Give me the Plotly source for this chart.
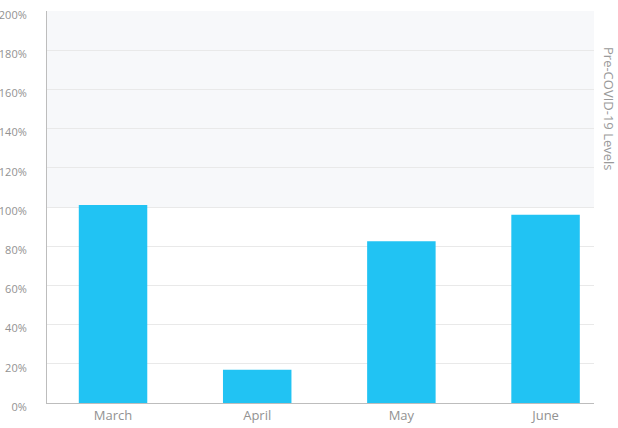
import plotly.graph_objects as go

# ── Dados ────────────────────────────────────────────────────────────────────

MESES   = ["March", "April", "May", "June"]
NIVEIS  = [101, 17, 82.5, 96]          # % dos níveis pré-COVID
Y_TICKS = [0, 20, 40, 60, 80, 100, 120, 140, 160, 180, 200]
Y_LABELS = [f"{v}%" for v in Y_TICKS]
ROTULO_FAIXA = "Pre-COVID-19 Levels"

COR_BARRA = "#21c3f3"
COR_TEXTO = "#929292"

# ── Gráfico ──────────────────────────────────────────────────────────────────

fig = go.Figure()

fig.add_trace(go.Bar(
    x=MESES,
    y=NIVEIS,
    marker_color=COR_BARRA,
    marker_line_width=0,
    width=0.475,
    hovertemplate="<b>%{x}</b><br>%{y}%<extra></extra>",
))

# faixa acima de 100% (níveis pré-COVID)
fig.add_shape(
    type="rect", xref="paper", yref="y",
    x0=0, x1=1, y0=100, y1=200,
    fillcolor="#f7f8fa", line_width=0, layer="below",
)

fig.add_annotation(
    text=ROTULO_FAIXA,
    xref="paper", yref="y",
    x=1.0, y=150, xanchor="left", yanchor="middle",
    xshift=4, textangle=90, showarrow=False,
    font=dict(size=13, color="#9a9a9a"),
)

fig.update_layout(
    width=618, height=428,
    showlegend=False,
    plot_bgcolor="white",
    paper_bgcolor="white",
    font=dict(family="Open Sans, sans-serif", color=COR_TEXTO),
    margin=dict(l=47, r=24, t=11, b=25, autoexpand=False),
    xaxis=dict(
        range=[-0.458, 3.336],
        showline=True, linecolor="#bdbdbd", linewidth=1,
        showgrid=False, ticks="", automargin=False,
        tickfont=dict(size=13, color=COR_TEXTO),
        fixedrange=True,
    ),
    yaxis=dict(
        range=[0, 200],
        tickvals=Y_TICKS, ticktext=Y_LABELS,
        showline=True, linecolor="#bdbdbd", linewidth=1,
        gridcolor="#e9e9e9", gridwidth=1,
        zeroline=False, ticks="", automargin=False,
        ticklabelstandoff=17, ticklabelshift=4,
        tickfont=dict(size=11, color=COR_TEXTO),
        fixedrange=True,
    ),
)

# tira a margem padrão do <body> para a figura ocupar a janela toda
fig.write_html(
    "out.html",
    config={"displayModeBar": False},
    post_script="document.body.style.margin='0';",
)
